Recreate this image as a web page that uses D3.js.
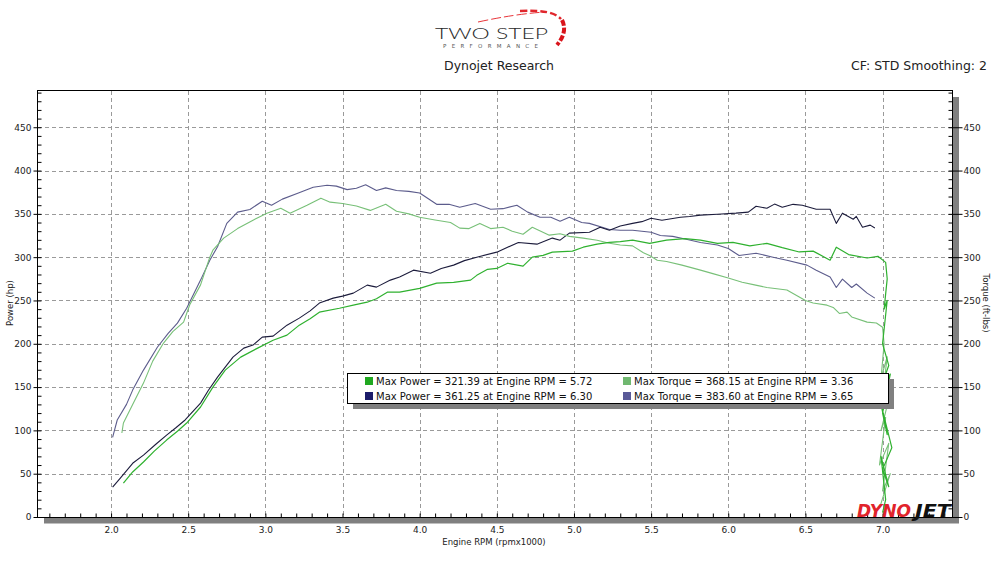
<!doctype html>
<html>
<head>
<meta charset="utf-8">
<title>Dynojet Research</title>
<script src="https://cdnjs.cloudflare.com/ajax/libs/d3/7.8.5/d3.min.js"></script>
<style>
  body { margin: 0; background: #fff; }
  text { font-family: "DejaVu Sans", sans-serif; fill: #222; }
  .grid line { stroke: #9a9a9a; stroke-dasharray: 4,3; }
  .axis text { font-size: 9px; }
  .axis line { stroke: #000; }
</style>
</head>
<body>
<div id="chart-area"></div>
<script>
// tick values
var rpmTicks = [2.0, 2.5, 3.0, 3.5, 4.0, 4.5, 5.0, 5.5, 6.0, 6.5, 7.0];
var powerTicks = [0, 50, 100, 150, 200, 250, 300, 350, 400, 450];

// run 2 (dark) - [rpm x1000, value]
var run2Power = [[2.01,34.6],[2.06,45],[2.14,62],[2.21,71.5],[2.29,84],[2.36,94.6],[2.42,103],[2.48,112],[2.58,131.5],[2.63,146],[2.69,161.5],[2.79,184.6],[2.86,195],[2.92,198.5],[2.98,207.7],[3.05,208.8],[3.14,221.5],[3.22,229.6],[3.29,238],[3.35,247],[3.44,252.7],[3.50,255],[3.57,258.5],[3.66,267.7],[3.72,265.4],[3.81,273.5],[3.87,277],[3.96,285],[4.07,281.5],[4.14,287],[4.22,290.8],[4.29,296],[4.37,300],[4.50,305.8],[4.64,317],[4.76,315],[4.86,322],[4.91,319.6],[4.97,327.7],[5.10,328.8],[5.17,334.6],[5.23,331],[5.30,336],[5.38,339],[5.44,341],[5.50,345],[5.57,342.7],[5.69,346],[5.75,347],[5.82,348.5],[5.93,349.6],[6.05,350.8],[6.13,352],[6.18,358.8],[6.25,356.5],[6.30,361.25],[6.35,357.7],[6.42,361],[6.48,360],[6.57,355.4],[6.66,355.4],[6.70,339],[6.74,350.8],[6.81,343.8],[6.83,347],[6.87,334.6],[6.92,337],[6.95,333.6]];
var run2Torque = [[2.01,92],[2.04,112],[2.10,130],[2.14,146.5],[2.21,169.6],[2.30,196],[2.37,212],[2.43,223.8],[2.49,241],[2.58,273.5],[2.64,296.5],[2.69,312],[2.75,339],[2.82,352],[2.90,355],[2.98,364.6],[3.04,360],[3.11,367],[3.21,373.8],[3.31,380.8],[3.40,383],[3.46,382],[3.53,378],[3.59,379.6],[3.65,383.6],[3.72,377],[3.78,380],[3.85,377],[3.93,376],[4.00,374],[4.11,361],[4.19,361],[4.26,357.7],[4.36,362],[4.46,355.4],[4.54,356],[4.63,360],[4.70,352],[4.78,346],[4.85,346],[4.91,341.5],[4.97,346],[5.05,340],[5.10,339],[5.23,332],[5.30,331],[5.38,331],[5.50,328.8],[5.56,325],[5.64,324],[5.72,321],[5.82,317],[5.93,314],[6.00,310],[6.07,302],[6.18,304.6],[6.29,300],[6.38,296.5],[6.51,290.8],[6.57,285],[6.66,277],[6.70,265],[6.74,274.6],[6.80,265],[6.83,269],[6.90,258.5],[6.95,252.7]];

// run 1 (green), ending with the noisy drop at ~7.0
var run1Power = [[2.08,39],[2.14,52],[2.21,63.5],[2.28,76],[2.36,88.8],[2.43,99],[2.49,108.5],[2.58,127],[2.66,150],[2.74,169.6],[2.84,184.6],[2.95,195],[3.05,204],[3.14,210],[3.22,221.5],[3.29,229],[3.35,236.5],[3.48,241],[3.57,244.6],[3.66,248],[3.72,252],[3.79,259.6],[3.87,259.6],[4.00,264],[4.11,270],[4.22,271],[4.33,273.5],[4.37,279],[4.44,286],[4.50,287],[4.57,293],[4.67,289.6],[4.73,300],[4.80,302],[4.86,305.8],[4.99,307],[5.06,311.5],[5.15,315],[5.23,317],[5.30,318],[5.38,319.6],[5.49,316],[5.60,319.6],[5.72,321.39],[5.82,319.6],[5.93,316],[6.03,317],[6.14,313],[6.25,316],[6.35,311],[6.46,306],[6.55,307],[6.66,296.5],[6.70,311.5],[6.78,303],[6.90,299],[6.97,301],[7.02,294],[7.03,275],[7.01,240],[7.03,250],[7.00,200],[7.04,175],[6.99,150],[7.05,165],[7.00,120],[7.03,95],[6.99,130],[7.06,80],[7.00,55],[7.04,35],[6.99,70],[7.02,20],[7.00,5]];
var run1Torque = [[2.07,97],[2.08,108.5],[2.14,130],[2.21,154.6],[2.27,180],[2.34,200.8],[2.40,214],[2.47,225],[2.51,245],[2.58,268],[2.64,300],[2.66,308],[2.73,322],[2.82,333],[2.92,342.7],[3.01,350.8],[3.10,356.5],[3.16,350.8],[3.27,360],[3.36,368.15],[3.42,363.5],[3.50,362],[3.59,359],[3.68,354],[3.78,361],[3.85,353],[3.93,350],[4.00,346],[4.10,343],[4.20,340],[4.26,333.5],[4.32,333],[4.39,339],[4.46,333],[4.54,334.6],[4.60,330],[4.67,326.5],[4.73,334.6],[4.84,325.4],[4.91,327],[4.97,324],[5.06,322],[5.15,319.6],[5.23,316],[5.30,314],[5.38,313],[5.45,305],[5.49,302],[5.54,296.5],[5.60,295],[5.70,290.8],[5.82,285],[5.90,281],[6.00,276],[6.09,271],[6.17,268],[6.25,265],[6.38,262],[6.46,254],[6.50,250],[6.55,247],[6.64,244.6],[6.68,242],[6.72,235],[6.77,236.5],[6.80,231],[6.90,225],[6.96,224],[7.00,219],[7.01,200],[6.99,160],[7.03,185],[7.00,140],[7.06,150],[6.99,100],[7.02,115],[6.98,60],[7.04,85],[7.00,30],[7.05,50],[6.98,10]];

var legendLabels = [
  "Max Power = 321.39 at Engine RPM = 5.72",
  "Max Power = 361.25 at Engine RPM = 6.30",
  "Max Torque = 368.15 at Engine RPM = 3.36",
  "Max Torque = 383.60 at Engine RPM = 3.65"
];

var svg = d3.select("#chart-area").append("svg")
  .attr("width", 1000)
  .attr("height", 563);

// scales
var x = d3.scaleLinear().domain([1.52, 7.45]).range([37, 952]);
var y = d3.scaleLinear().domain([0, 493]).range([517, 90]);

// header logo
var logo = svg.append("g");
logo.append("path")
  .attr("d", "M478,22 Q515,14 545,12")
  .attr("fill", "none").attr("stroke", "#e8353a").attr("stroke-width", 1)
  .attr("stroke-dasharray", "10,3");
logo.append("path")
  .attr("d", "M520,11 Q552,9 561,19")
  .attr("fill", "none").attr("stroke", "#e0262c").attr("stroke-width", 2.5)
  .attr("stroke-dasharray", "7,3");
logo.append("path")
  .attr("d", "M562,20 Q568,32 557,45")
  .attr("fill", "none").attr("stroke", "#d9141b").attr("stroke-width", 4)
  .attr("stroke-dasharray", "6,2");
logo.append("text")
  .attr("x", 435).attr("y", 39)
  .attr("textLength", 113).attr("lengthAdjust", "spacingAndGlyphs")
  .style("font-family", "Lato, 'DejaVu Sans', sans-serif")
  .style("font-weight", 300)
  .style("font-size", "16px")
  .style("fill", "#2a2a2a")
  .text("TWO STEP");
logo.append("text")
  .attr("x", 443).attr("y", 48)
  .attr("textLength", 95).attr("lengthAdjust", "spacing")
  .style("font-size", "5.5px")
  .style("fill", "#555")
  .text("PERFORMANCE");

svg.append("text")
  .attr("x", 499).attr("y", 70)
  .attr("text-anchor", "middle")
  .style("font-size", "12.5px")
  .text("Dynojet Research");
svg.append("text")
  .attr("x", 987).attr("y", 70)
  .attr("text-anchor", "end")
  .style("font-size", "12.5px")
  .text("CF: STD Smoothing: 2");

// shadow bars of the plot frame
svg.append("rect")
  .attr("x", 44).attr("y", 517.5).attr("width", 915).attr("height", 6)
  .attr("fill", "#808080");
svg.append("rect")
  .attr("x", 952.5).attr("y", 97).attr("width", 6.5).attr("height", 426)
  .attr("fill", "#808080");

// grid
var grid = svg.append("g").attr("class", "grid");
grid.selectAll(".vx").data(rpmTicks).enter().append("line")
  .attr("x1", function(d){ return Math.round(x(d)) + 0.5; })
  .attr("x2", function(d){ return Math.round(x(d)) + 0.5; })
  .attr("y1", 91).attr("y2", 517);
grid.selectAll(".hy").data(powerTicks.slice(1)).enter().append("line")
  .attr("x1", 38).attr("x2", 952)
  .attr("y1", function(d){ return Math.round(y(d)) + 0.5; })
  .attr("y2", function(d){ return Math.round(y(d)) + 0.5; });

// frame
svg.append("rect")
  .attr("x", 37.5).attr("y", 90.5).attr("width", 915).attr("height", 427)
  .attr("fill", "none").attr("stroke", "#000");

// axes
var minorY = d3.range(0, 491, 10);
var minorX = d3.range(16, 75).map(function(d){ return d / 10; });

svg.append("g").attr("class", "axis").attr("transform", "translate(37.5,0)")
  .call(d3.axisLeft(y).tickValues(powerTicks).tickSize(4).tickPadding(2).tickSizeOuter(0));
svg.append("g").attr("class", "axis").attr("transform", "translate(37.5,0)")
  .call(d3.axisRight(y).tickValues(minorY).tickSize(4).tickFormat(""));
svg.append("g").attr("class", "axis").attr("transform", "translate(952.5,0)")
  .call(d3.axisRight(y).tickValues(powerTicks).tickSize(10).tickPadding(1).tickSizeOuter(0));
svg.append("g").attr("class", "axis").attr("transform", "translate(952.5,0)")
  .call(d3.axisLeft(y).tickValues(minorY).tickSize(4).tickFormat(""));
svg.append("g").attr("class", "axis").attr("transform", "translate(0,517.5)")
  .call(d3.axisBottom(x).tickValues(rpmTicks).tickSize(0).tickPadding(9).tickFormat(d3.format(".1f")));
svg.append("g").attr("class", "axis").attr("transform", "translate(0,517.5)")
  .call(d3.axisTop(x).tickValues(minorX).tickSize(4).tickFormat(""));
svg.selectAll(".axis .domain").remove();

// axis titles
svg.append("text")
  .attr("transform", "translate(13,303) rotate(-90)")
  .attr("text-anchor", "middle")
  .style("font-size", "8.5px")
  .text("Power (hp)");
svg.append("text")
  .attr("transform", "translate(983,303) rotate(90)")
  .attr("text-anchor", "middle")
  .style("font-size", "8.5px")
  .text("Torque (ft-lbs)");
svg.append("text")
  .attr("x", 494).attr("y", 545)
  .attr("text-anchor", "middle")
  .style("font-size", "8.5px")
  .text("Engine RPM (rpmx1000)");

// lines
var line = d3.line()
  .x(function(d){ return x(d[0]); })
  .y(function(d){ return y(d[1]); });

var series = [
  { data: run2Torque, color: "#5c5c8c", width: 1.1 },
  { data: run2Power, color: "#1c1c3c", width: 1.1 },
  { data: run1Torque, color: "#78c078", width: 1.1 },
  { data: run1Power, color: "#2fb12f", width: 1.2 }
];
series.forEach(function(s){
  svg.append("path")
    .attr("fill", "none")
    .attr("stroke", s.color)
    .attr("stroke-width", s.width)
    .attr("stroke-linejoin", "round")
    .attr("d", line(s.data));
});

// dynojet logo
svg.append("text")
  .attr("x", 857).attr("y", 517)
  .attr("textLength", 54).attr("lengthAdjust", "spacingAndGlyphs")
  .style("font-size", "18px").style("font-weight", "bold").style("font-style", "italic")
  .style("fill", "#e1232b")
  .text("DYNO");
svg.append("text")
  .attr("x", 915).attr("y", 517)
  .attr("textLength", 36).attr("lengthAdjust", "spacingAndGlyphs")
  .style("font-size", "18px").style("font-weight", "bold").style("font-style", "italic")
  .style("fill", "#111")
  .text("JET");

// legend
var legend = svg.append("g");
legend.append("rect")
  .attr("x", 353).attr("y", 379).attr("width", 541).attr("height", 30)
  .attr("fill", "#808080");
legend.append("rect")
  .attr("x", 347.5).attr("y", 373.5).attr("width", 541).attr("height", 30)
  .attr("fill", "#fff").attr("stroke", "#000");

var legendColors = ["#20a820", "#1c1c6a", "#70b870", "#5a5a98"];
legendLabels.forEach(function(label, i){
  var col = Math.floor(i / 2), row = i % 2;
  var lx = col === 0 ? 365 : 623;
  var ly = 377 + row * 15;
  legend.append("rect")
    .attr("x", lx).attr("y", ly).attr("width", 8).attr("height", 8)
    .attr("fill", legendColors[i]);
  legend.append("text")
    .attr("x", lx + 11).attr("y", ly + 8)
    .style("font-size", "10px")
    .style("fill", "#111")
    .text(label);
});
</script>
</body>
</html>
